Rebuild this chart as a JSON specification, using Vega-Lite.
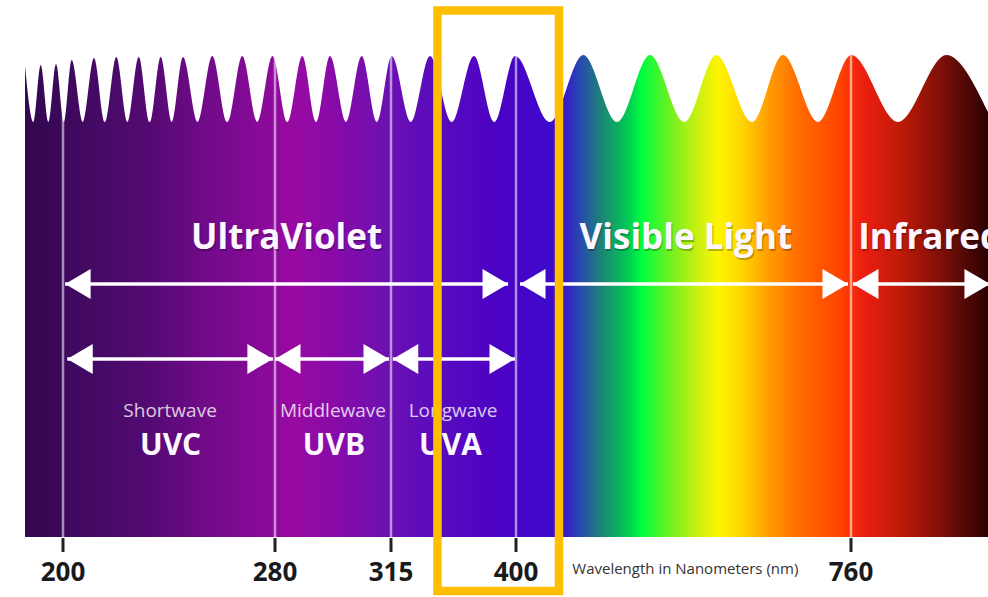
{
  "$schema": "https://vega.github.io/schema/vega-lite/v6.json",
  "width": 988,
  "height": 597,
  "autosize": {"type": "none"},
  "padding": 0,
  "background": "white",
  "config": {"view": {"stroke": null}},
  "datasets": {
    "band": [{"start": 185.6, "end": 907}],
    "wave": [
      {"nm": 185.6, "y": 66}, {"nm": 188.8, "y": 122}, {"nm": 191.55, "y": 65}, {"nm": 194.43, "y": 122},
      {"nm": 197.35, "y": 64}, {"nm": 200.3, "y": 122}, {"nm": 203.28, "y": 60}, {"nm": 207.47, "y": 122},
      {"nm": 211.7, "y": 58}, {"nm": 215.85, "y": 122}, {"nm": 220.11, "y": 57}, {"nm": 224.34, "y": 122},
      {"nm": 228.57, "y": 57}, {"nm": 232.72, "y": 122}, {"nm": 236.87, "y": 57}, {"nm": 241.06, "y": 122},
      {"nm": 245.28, "y": 57}, {"nm": 250.79, "y": 122}, {"nm": 256.34, "y": 56}, {"nm": 262.0, "y": 122},
      {"nm": 267.66, "y": 56}, {"nm": 273.32, "y": 122}, {"nm": 279.06, "y": 56}, {"nm": 283.77, "y": 122},
      {"nm": 288.24, "y": 56}, {"nm": 292.43, "y": 122}, {"nm": 296.59, "y": 56}, {"nm": 301.42, "y": 122},
      {"nm": 306.16, "y": 56}, {"nm": 310.69, "y": 122}, {"nm": 315.48, "y": 56}, {"nm": 328.6, "y": 122},
      {"nm": 341.52, "y": 56}, {"nm": 356.48, "y": 122}, {"nm": 371.44, "y": 56}, {"nm": 385.38, "y": 122},
      {"nm": 399.32, "y": 56}, {"nm": 436.54, "y": 122}, {"nm": 472.32, "y": 55}, {"nm": 508.54, "y": 122},
      {"nm": 544.0, "y": 55}, {"nm": 581.07, "y": 122}, {"nm": 615.25, "y": 55}, {"nm": 653.61, "y": 122},
      {"nm": 686.92, "y": 55}, {"nm": 724.54, "y": 122}, {"nm": 760.3, "y": 55}, {"nm": 810.43, "y": 122},
      {"nm": 862.25, "y": 55}, {"nm": 907, "y": 112}
    ],
    "marks": [
      {"nm": 200, "label": "200"}, {"nm": 280, "label": "280"}, {"nm": 315, "label": "315"},
      {"nm": 400, "label": "400"}, {"nm": 760, "label": "760"}
    ],
    "arrows": [
      {"name": "UltraViolet", "tier": "region", "from": 200.8, "to": 394.6},
      {"name": "Visible Light", "tier": "region", "from": 404.3, "to": 756.8},
      {"name": "Infrared", "tier": "region", "from": 762.1, "to": 909.1},
      {"name": "UVC", "tier": "band", "from": 201.6, "to": 279.2},
      {"name": "UVB", "tier": "band", "from": 280.0, "to": 314.4},
      {"name": "UVA", "tier": "band", "from": 316.2, "to": 399.3}
    ],
    "labels": [
      {"text": "UltraViolet", "kind": "heading", "nm": 283.5},
      {"text": "Visible Light", "kind": "heading", "nm": 582.5},
      {"text": "Infrared", "kind": "headingLeft", "nm": 767.8},
      {"text": "Shortwave", "kind": "sub", "nm": 240.4},
      {"text": "Middlewave", "kind": "sub", "nm": 297.5},
      {"text": "Longwave", "kind": "sub", "nm": 357.2},
      {"text": "UVC", "kind": "bandname", "nm": 240.6},
      {"text": "UVB", "kind": "bandname", "nm": 297.8},
      {"text": "UVA", "kind": "bandname", "nm": 355.5},
      {"text": "Wavelength in Nanometers (nm)", "kind": "caption", "nm": 460.5}
    ],
    "frame": [{"left": 346.6, "right": 446.2}]
  },
  "encoding": {
    "x": {
      "type": "quantitative",
      "scale": {"type": "linear", "domain": [185.6, 200, 280, 315, 400, 760, 907], "range": [25, 63, 275, 391, 516, 851, 988], "nice": false, "zero": false},
      "axis": null
    }
  },
  "layer": [
    {
      "data": {"name": "band"},
      "mark": {
        "type": "rect",
        "fill": {
          "gradient": "linear", "x1": 0, "y1": 0, "x2": 1, "y2": 0,
          "stops": [
            {"offset": 0, "color": "#330950"},
            {"offset": 0.0208, "color": "#380856"},
            {"offset": 0.0779, "color": "#460a66"},
            {"offset": 0.1298, "color": "#540a73"},
            {"offset": 0.1817, "color": "#6e0a87"},
            {"offset": 0.2336, "color": "#830a96"},
            {"offset": 0.2804, "color": "#980aa2"},
            {"offset": 0.3167, "color": "#8a0aa8"},
            {"offset": 0.3687, "color": "#7010b0"},
            {"offset": 0.4206, "color": "#5a0cbc"},
            {"offset": 0.4933, "color": "#4c02c4"},
            {"offset": 0.5556, "color": "#3a0ccc"},
            {"offset": 0.5763, "color": "#2848b0"},
            {"offset": 0.5971, "color": "#1e8078"},
            {"offset": 0.6283, "color": "#00d050"},
            {"offset": 0.6407, "color": "#00ff40"},
            {"offset": 0.6698, "color": "#70f020"},
            {"offset": 0.7009, "color": "#d0f010"},
            {"offset": 0.7196, "color": "#fff500"},
            {"offset": 0.7425, "color": "#ffd800"},
            {"offset": 0.7736, "color": "#ff9a00"},
            {"offset": 0.8048, "color": "#ff6a00"},
            {"offset": 0.8463, "color": "#ff4400"},
            {"offset": 0.8671, "color": "#f02010"},
            {"offset": 0.9086, "color": "#c01a08"},
            {"offset": 0.9502, "color": "#801008"},
            {"offset": 1, "color": "#2a0202"}
          ]
        }
      },
      "encoding": {
        "x": {"field": "start", "type": "quantitative"},
        "x2": {"field": "end"},
        "y": {"datum": 55, "type": "quantitative", "scale": {"domain": [0, 597], "range": [0, 597], "nice": false, "zero": false}, "axis": null},
        "y2": {"datum": 537}
      }
    },
    {
      "data": {"name": "wave"},
      "mark": {"type": "area", "interpolate": "monotone", "fill": "white", "stroke": null, "opacity": 1},
      "encoding": {
        "x": {"field": "nm", "type": "quantitative"},
        "y": {"field": "y", "type": "quantitative"},
        "y2": {"datum": 40}
      }
    },
    {
      "data": {"name": "marks"},
      "mark": {"type": "rule", "color": "white", "opacity": 0.55, "strokeWidth": 2.5},
      "encoding": {
        "x": {"field": "nm", "type": "quantitative"},
        "y": {"datum": 55, "type": "quantitative"},
        "y2": {"datum": 537}
      }
    },
    {
      "data": {"name": "marks"},
      "mark": {"type": "rule", "color": "#222222", "strokeWidth": 3},
      "encoding": {
        "x": {"field": "nm", "type": "quantitative"},
        "y": {"datum": 538, "type": "quantitative"},
        "y2": {"datum": 552}
      }
    },
    {
      "data": {"name": "marks"},
      "mark": {"type": "text", "font": "Open Sans", "fontWeight": "bold", "fontSize": 26, "color": "#1a1a1a", "align": "center", "baseline": "alphabetic"},
      "encoding": {
        "x": {"field": "nm", "type": "quantitative"},
        "y": {"datum": 581, "type": "quantitative"},
        "text": {"field": "label"}
      }
    },
    {
      "data": {"name": "arrows"},
      "transform": [{"filter": "datum.tier === 'region'"}],
      "mark": {"type": "rule", "color": "white", "strokeWidth": 3.5},
      "encoding": {
        "x": {"field": "from", "type": "quantitative"},
        "x2": {"field": "to"},
        "y": {"datum": 284, "type": "quantitative"}
      }
    },
    {
      "data": {"name": "arrows"},
      "transform": [{"filter": "datum.tier === 'band'"}],
      "mark": {"type": "rule", "color": "white", "strokeWidth": 3.5},
      "encoding": {
        "x": {"field": "from", "type": "quantitative"},
        "x2": {"field": "to"},
        "y": {"datum": 359, "type": "quantitative"}
      }
    },
    {
      "data": {"name": "arrows"},
      "transform": [{"filter": "datum.tier === 'region'"}, {"fold": ["from", "to"], "as": ["end", "pos"]}],
      "mark": {"type": "point", "filled": true, "opacity": 1, "size": 900, "color": "white", "strokeWidth": 0},
      "encoding": {
        "x": {"field": "pos", "type": "quantitative"},
        "y": {"datum": 284, "type": "quantitative"},
        "shape": {"field": "end", "type": "nominal", "scale": {"domain": ["from", "to"], "range": ["M0,0L1.7,-1L1.7,1Z", "M0,0L-1.7,-1L-1.7,1Z"]}, "legend": null}
      }
    },
    {
      "data": {"name": "arrows"},
      "transform": [{"filter": "datum.tier === 'band'"}, {"fold": ["from", "to"], "as": ["end", "pos"]}],
      "mark": {"type": "point", "filled": true, "opacity": 1, "size": 900, "color": "white", "strokeWidth": 0},
      "encoding": {
        "x": {"field": "pos", "type": "quantitative"},
        "y": {"datum": 359, "type": "quantitative"},
        "shape": {"field": "end", "type": "nominal", "scale": {"domain": ["from", "to"], "range": ["M0,0L1.7,-1L1.7,1Z", "M0,0L-1.7,-1L-1.7,1Z"]}, "legend": null}
      }
    },
    {
      "data": {"name": "labels"},
      "transform": [{"filter": "datum.kind === 'heading'"}],
      "mark": {"type": "text", "font": "Open Sans", "fontWeight": "bold", "fontSize": 35, "color": "#000000", "opacity": 0.25, "align": "center", "baseline": "alphabetic", "dx": 1, "dy": 2},
      "encoding": {
        "x": {"field": "nm", "type": "quantitative"},
        "y": {"datum": 249, "type": "quantitative"},
        "text": {"field": "text"}
      }
    },
    {
      "data": {"name": "labels"},
      "transform": [{"filter": "datum.kind === 'heading'"}],
      "mark": {"type": "text", "font": "Open Sans", "fontWeight": "bold", "fontSize": 35, "color": "#fbf6ff", "align": "center", "baseline": "alphabetic"},
      "encoding": {
        "x": {"field": "nm", "type": "quantitative"},
        "y": {"datum": 249, "type": "quantitative"},
        "text": {"field": "text"}
      }
    },
    {
      "data": {"name": "labels"},
      "transform": [{"filter": "datum.kind === 'headingLeft'"}],
      "mark": {"type": "text", "font": "Open Sans", "fontWeight": "bold", "fontSize": 35, "color": "#000000", "opacity": 0.25, "align": "left", "baseline": "alphabetic", "dx": 1, "dy": 2},
      "encoding": {
        "x": {"field": "nm", "type": "quantitative"},
        "y": {"datum": 249, "type": "quantitative"},
        "text": {"field": "text"}
      }
    },
    {
      "data": {"name": "labels"},
      "transform": [{"filter": "datum.kind === 'headingLeft'"}],
      "mark": {"type": "text", "font": "Open Sans", "fontWeight": "bold", "fontSize": 35, "color": "#fbf6ff", "align": "left", "baseline": "alphabetic"},
      "encoding": {
        "x": {"field": "nm", "type": "quantitative"},
        "y": {"datum": 249, "type": "quantitative"},
        "text": {"field": "text"}
      }
    },
    {
      "data": {"name": "labels"},
      "transform": [{"filter": "datum.kind === 'sub'"}],
      "mark": {"type": "text", "font": "Open Sans", "fontSize": 19, "color": "#ffffff", "opacity": 0.78, "align": "center", "baseline": "alphabetic"},
      "encoding": {
        "x": {"field": "nm", "type": "quantitative"},
        "y": {"datum": 416.5, "type": "quantitative"},
        "text": {"field": "text"}
      }
    },
    {
      "data": {"name": "labels"},
      "transform": [{"filter": "datum.kind === 'bandname'"}],
      "mark": {"type": "text", "font": "Open Sans", "fontWeight": "bold", "fontSize": 30, "color": "#fbf6ff", "align": "center", "baseline": "alphabetic"},
      "encoding": {
        "x": {"field": "nm", "type": "quantitative"},
        "y": {"datum": 455, "type": "quantitative"},
        "text": {"field": "text"}
      }
    },
    {
      "data": {"name": "labels"},
      "transform": [{"filter": "datum.kind === 'caption'"}],
      "mark": {"type": "text", "font": "Open Sans", "fontSize": 15, "color": "#333333", "align": "left", "baseline": "alphabetic"},
      "encoding": {
        "x": {"field": "nm", "type": "quantitative"},
        "y": {"datum": 574, "type": "quantitative"},
        "text": {"field": "text"}
      }
    },
    {
      "data": {"name": "frame"},
      "mark": {"type": "rect", "fill": null, "fillOpacity": 0, "stroke": "#FFBF00", "strokeWidth": 8.5},
      "encoding": {
        "x": {"field": "left", "type": "quantitative"},
        "x2": {"field": "right"},
        "y": {"datum": 10.5, "type": "quantitative"},
        "y2": {"datum": 591}
      }
    }
  ]
}
